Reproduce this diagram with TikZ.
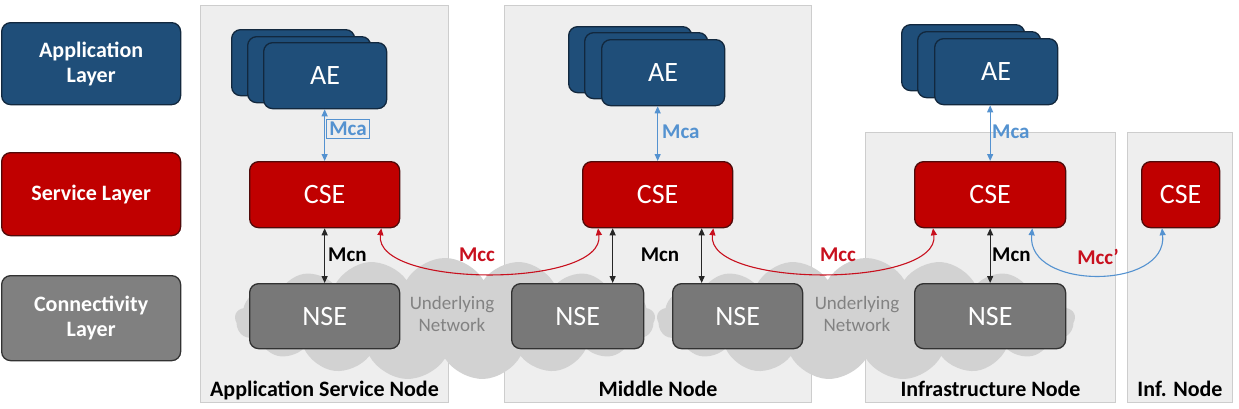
\documentclass[tikz,border=0pt]{standalone}
\usepackage{fontspec}
\setmainfont{Carlito}
\usetikzlibrary{arrows.meta,shapes.symbols}
\definecolor{aeblue}{RGB}{31,78,121}
\definecolor{aeedge}{RGB}{18,40,62}
\definecolor{csered}{RGB}{192,0,0}
\definecolor{cseedge}{RGB}{80,10,10}
\definecolor{nsegray}{RGB}{120,120,120}
\definecolor{layergray}{RGB}{128,128,128}
\definecolor{grayedge}{RGB}{50,50,50}
\definecolor{panelfill}{RGB}{238,238,238}
\definecolor{paneledge}{RGB}{205,205,205}
\definecolor{cloudgray}{RGB}{210,210,210}
\definecolor{mcablue}{RGB}{84,146,208}
\definecolor{mccred}{RGB}{200,16,30}
\definecolor{nettext}{RGB}{130,130,130}

\begin{document}
\begin{tikzpicture}[x=1pt,y=-1pt,
  ent-box/.style={rounded corners=9pt,line width=1.3pt,inner sep=0pt,anchor=north west,text=white,font=\fontsize{28}{30}\selectfont},
  ae-box/.style={ent-box,fill=aeblue,draw=aeedge,minimum width=123pt,minimum height=66pt},
  cse-box/.style={ent-box,fill=csered,draw=cseedge,minimum height=66pt},
  nse-box/.style={ent-box,fill=nsegray,draw=grayedge,minimum height=65pt},
  layer-box/.style={ent-box,minimum width=179pt,align=center,font=\bfseries\fontsize{22}{25}\selectfont},
  panel/.style={fill=panelfill,draw=paneledge,line width=1pt,anchor=north west,inner sep=0pt},
  cloud-blob/.style={cloud,cloud puffs=17,cloud puff arc=120,cloud ignores aspect,fill=cloudgray,draw=none,inner sep=0pt},
  link-tips/.style={{Triangle[length=7pt,width=6pt]}-{Triangle[length=7pt,width=6pt]},line width=1.1pt},
  if-label/.style={font=\bfseries\fontsize{21}{23}\selectfont,inner sep=1pt},
  node-title/.style={font=\bfseries\fontsize{22}{24}\selectfont,anchor=base,inner sep=0pt}]
\useasboundingbox (0,0) rectangle (1239,408);
% layer legend
\node[layer-box,fill=aeblue,draw=aeedge,minimum height=82pt] (layer-app) at (1,22) {Application\\Layer};
\node[layer-box,fill=csered,draw=cseedge,minimum height=83pt] (layer-svc) at (1,152) {Service Layer};
\node[layer-box,fill=layergray,draw=grayedge,minimum height=85pt] (layer-con) at (1,275) {Connectivity\\Layer};
% node panels
\node[panel,minimum width=248pt,minimum height=397pt] (panel-asn) at (200,5) {};
\node[panel,minimum width=307pt,minimum height=397pt] (panel-mn) at (504,5) {};
\node[panel,minimum width=250pt,minimum height=270pt] (panel-in) at (865,132) {};
\node[panel,minimum width=105pt,minimum height=270pt] (panel-inf) at (1127,132) {};
\node[node-title] at ([yshift=7pt]panel-asn.south) {Application Service Node};
\node[node-title] at ([yshift=7pt]panel-mn.south) {Middle Node};
\node[node-title] at ([yshift=7pt]panel-in.south) {Infrastructure Node};
\node[node-title] at ([yshift=7pt]panel-inf.south) {Inf. Node};
% underlying networks
\node[cloud-blob,minimum width=420pt,minimum height=122pt] (cloud-left) at (445,319) {};
\node[cloud-blob,minimum width=418pt,minimum height=122pt] (cloud-right) at (866,319) {};
\node[align=center,text=nettext,font=\fontsize{19}{22}\selectfont] (net-left) at (452,314) {Underlying\\Network};
\node[align=center,text=nettext,font=\fontsize{19}{22}\selectfont] (net-right) at (857,314) {Underlying\\Network};
% application entities
\node[ae-box] (ae-asn-back-1) at (231,29) {};
\node[ae-box] (ae-asn-back-2) at (247,36) {};
\node[ae-box] (ae-asn) at (263,42) {AE};
\node[ae-box] (ae-mn-back-1) at (568,26) {};
\node[ae-box] (ae-mn-back-2) at (584,32) {};
\node[ae-box] (ae-mn) at (601,39) {AE};
\node[ae-box] (ae-in-back-1) at (901,24) {};
\node[ae-box] (ae-in-back-2) at (917,31) {};
\node[ae-box] (ae-in) at (934,38) {AE};
% common service entities
\node[cse-box,minimum width=150pt] (cse-asn) at (249,161) {CSE};
\node[cse-box,minimum width=150pt] (cse-mn) at (582,161) {CSE};
\node[cse-box,minimum width=151pt] (cse-in) at (914,161) {CSE};
\node[cse-box,minimum width=78pt] (cse-inf) at (1141,161) {CSE};
% network service entities
\node[nse-box,minimum width=150pt] (nse-asn) at (249,283) {NSE};
\node[nse-box,minimum width=132pt] (nse-mn-1) at (511,283) {NSE};
\node[nse-box,minimum width=130pt] (nse-mn-2) at (672,283) {NSE};
\node[nse-box,minimum width=151pt] (nse-in) at (914,283) {NSE};
% Mca
\draw[link-tips,mcablue] (cse-asn.north) -- (cse-asn.north |- ae-asn.south);
\draw[link-tips,mcablue] (cse-mn.north) -- (cse-mn.north |- ae-mn.south);
\draw[link-tips,mcablue] (cse-in.north) -- (cse-in.north |- ae-in.south);
\node[if-label,text=mcablue,draw=mcablue,line width=0.8pt,inner sep=2.5pt] (mca-asn) at (348,129) {Mca};
\node[if-label,text=mcablue,anchor=west] (mca-mn) at (661,132) {Mca};
\node[if-label,text=mcablue,anchor=west] (mca-in) at (991,132) {Mca};
% Mcn
\draw[link-tips,black!85] (cse-asn.south) -- (cse-asn.south |- nse-asn.north);
\draw[link-tips,black!85] ([xshift=-45pt]cse-mn.south) -- ([xshift=-45pt]cse-mn.south |- nse-mn-1.north);
\draw[link-tips,black!85] ([xshift=44pt]cse-mn.south) -- ([xshift=44pt]cse-mn.south |- nse-mn-2.north);
\draw[link-tips,black!85] (cse-in.south) -- (cse-in.south |- nse-in.north);
\node[if-label,anchor=west] (mcn-asn) at (327,255) {Mcn};
\node[if-label] (mcn-mn) at (660,255) {Mcn};
\node[if-label,anchor=west] (mcn-in) at (991,255) {Mcn};
% Mcc and Mcc'
\draw[link-tips,mccred] ([xshift=-19pt]cse-asn.south east) .. controls +(-8,60) and +(8,60) .. ([xshift=16pt]cse-mn.south west);
\draw[link-tips,mccred] ([xshift=-20pt]cse-mn.south east) .. controls +(-8,60) and +(8,60) .. ([xshift=19pt]cse-in.south west);
\draw[link-tips,mcablue] ([xshift=-34pt]cse-in.south east) .. controls +(-6,62) and +(6,62) .. ([xshift=21pt]cse-inf.south west);
\node[if-label,text=mccred] (mcc-1) at (477,255) {Mcc};
\node[if-label,text=mccred] (mcc-2) at (838,255) {Mcc};
\node[if-label,text=mccred] (mcc-3) at (1098,257) {Mcc’};
\end{tikzpicture}
\end{document}
